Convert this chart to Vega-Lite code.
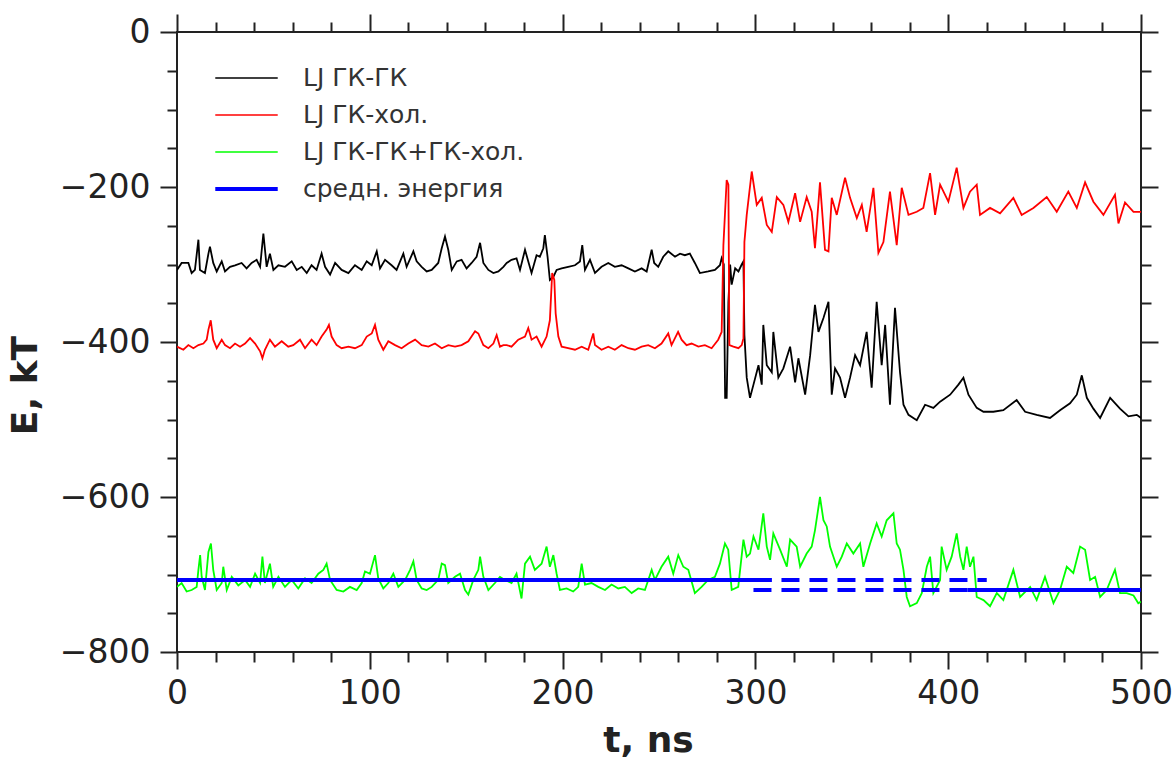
{
  "$schema": "https://vega.github.io/schema/vega-lite/v6.json",
  "autosize": {"type": "none"},
  "padding": {"left": 177, "top": 32, "right": 33, "bottom": 108},
  "width": 964,
  "height": 620,
  "background": "white",
  "config": {
    "view": {"stroke": "#222222", "strokeWidth": 2},
    "axis": {"domain": false, "grid": false, "tickColor": "#222222", "tickWidth": 2, "labelFont": "DejaVu Sans", "labelFontSize": 33, "labelColor": "#222222", "titleFont": "DejaVu Sans", "titleFontWeight": "bold", "titleFontSize": 36, "titleColor": "#222222"},
    "legend": {"orient": "none", "legendX": 38, "legendY": 38, "symbolType": "stroke", "symbolSize": 3900, "clipHeight": 16, "rowPadding": 12, "symbolOffset": 19, "labelOffset": 44, "labelLimit": 500, "labelFont": "DejaVu Sans", "labelFontSize": 25, "labelColor": "#333333", "padding": 0}
  },
  "datasets": {
    "curves": [
      {"series": "LJ ГК-ГК", "t": 0, "E": -307}, {"series": "LJ ГК-ГК", "t": 2.4, "E": -298}, {"series": "LJ ГК-ГК", "t": 5.9, "E": -298}, {"series": "LJ ГК-ГК", "t": 7.6, "E": -311}, {"series": "LJ ГК-ГК", "t": 9.3, "E": -307}, {"series": "LJ ГК-ГК", "t": 11.1, "E": -268}, {"series": "LJ ГК-ГК", "t": 11.9, "E": -307}, {"series": "LJ ГК-ГК", "t": 14.5, "E": -311}, {"series": "LJ ГК-ГК", "t": 16.3, "E": -286}, {"series": "LJ ГК-ГК", "t": 17.1, "E": -277}, {"series": "LJ ГК-ГК", "t": 18.8, "E": -298}, {"series": "LJ ГК-ГК", "t": 20.6, "E": -309}, {"series": "LJ ГК-ГК", "t": 23.2, "E": -296}, {"series": "LJ ГК-ГК", "t": 24.9, "E": -309}, {"series": "LJ ГК-ГК", "t": 27.5, "E": -303}, {"series": "LJ ГК-ГК", "t": 30.1, "E": -301}, {"series": "LJ ГК-ГК", "t": 33.5, "E": -298}, {"series": "LJ ГК-ГК", "t": 36.1, "E": -305}, {"series": "LJ ГК-ГК", "t": 38.7, "E": -298}, {"series": "LJ ГК-ГК", "t": 41.3, "E": -294}, {"series": "LJ ГК-ГК", "t": 43.1, "E": -303}, {"series": "LJ ГК-ГК", "t": 44.8, "E": -260}, {"series": "LJ ГК-ГК", "t": 46.5, "E": -303}, {"series": "LJ ГК-ГК", "t": 48.2, "E": -286}, {"series": "LJ ГК-ГК", "t": 50.0, "E": -307}, {"series": "LJ ГК-ГК", "t": 52.6, "E": -301}, {"series": "LJ ГК-ГК", "t": 56.0, "E": -303}, {"series": "LJ ГК-ГК", "t": 59.5, "E": -296}, {"series": "LJ ГК-ГК", "t": 62.1, "E": -307}, {"series": "LJ ГК-ГК", "t": 64.7, "E": -303}, {"series": "LJ ГК-ГК", "t": 67.3, "E": -311}, {"series": "LJ ГК-ГК", "t": 69.8, "E": -301}, {"series": "LJ ГК-ГК", "t": 72.4, "E": -307}, {"series": "LJ ГК-ГК", "t": 75.0, "E": -286}, {"series": "LJ ГК-ГК", "t": 76.8, "E": -303}, {"series": "LJ ГК-ГК", "t": 79.4, "E": -313}, {"series": "LJ ГК-ГК", "t": 82.0, "E": -298}, {"series": "LJ ГК-ГК", "t": 85.4, "E": -307}, {"series": "LJ ГК-ГК", "t": 88.9, "E": -311}, {"series": "LJ ГК-ГК", "t": 92.3, "E": -301}, {"series": "LJ ГК-ГК", "t": 95.8, "E": -307}, {"series": "LJ ГК-ГК", "t": 98.4, "E": -296}, {"series": "LJ ГК-ГК", "t": 101.0, "E": -301}, {"series": "LJ ГК-ГК", "t": 103.6, "E": -283}, {"series": "LJ ГК-ГК", "t": 105.3, "E": -305}, {"series": "LJ ГК-ГК", "t": 107.9, "E": -294}, {"series": "LJ ГК-ГК", "t": 111.3, "E": -301}, {"series": "LJ ГК-ГК", "t": 113.9, "E": -307}, {"series": "LJ ГК-ГК", "t": 117.4, "E": -286}, {"series": "LJ ГК-ГК", "t": 119.1, "E": -303}, {"series": "LJ ГК-ГК", "t": 122.6, "E": -283}, {"series": "LJ ГК-ГК", "t": 124.3, "E": -296}, {"series": "LJ ГК-ГК", "t": 126.9, "E": -303}, {"series": "LJ ГК-ГК", "t": 129.5, "E": -309}, {"series": "LJ ГК-ГК", "t": 132.1, "E": -307}, {"series": "LJ ГК-ГК", "t": 135.5, "E": -298}, {"series": "LJ ГК-ГК", "t": 137.3, "E": -279}, {"series": "LJ ГК-ГК", "t": 139.0, "E": -264}, {"series": "LJ ГК-ГК", "t": 140.7, "E": -281}, {"series": "LJ ГК-ГК", "t": 142.5, "E": -307}, {"series": "LJ ГК-ГК", "t": 145.1, "E": -296}, {"series": "LJ ГК-ГК", "t": 147.6, "E": -294}, {"series": "LJ ГК-ГК", "t": 150.2, "E": -305}, {"series": "LJ ГК-ГК", "t": 152.8, "E": -298}, {"series": "LJ ГК-ГК", "t": 155.4, "E": -290}, {"series": "LJ ГК-ГК", "t": 157.2, "E": -272}, {"series": "LJ ГК-ГК", "t": 158.9, "E": -298}, {"series": "LJ ГК-ГК", "t": 161.5, "E": -307}, {"series": "LJ ГК-ГК", "t": 164.1, "E": -311}, {"series": "LJ ГК-ГК", "t": 166.7, "E": -309}, {"series": "LJ ГК-ГК", "t": 169.3, "E": -303},
      {"series": "LJ ГК-ГК", "t": 171.0, "E": -298}, {"series": "LJ ГК-ГК", "t": 173.5, "E": -294}, {"series": "LJ ГК-ГК", "t": 176.1, "E": -292}, {"series": "LJ ГК-ГК", "t": 177.9, "E": -307}, {"series": "LJ ГК-ГК", "t": 180.5, "E": -281}, {"series": "LJ ГК-ГК", "t": 182.2, "E": -296}, {"series": "LJ ГК-ГК", "t": 183.9, "E": -311}, {"series": "LJ ГК-ГК", "t": 186.5, "E": -288}, {"series": "LJ ГК-ГК", "t": 188.2, "E": -290}, {"series": "LJ ГК-ГК", "t": 190.0, "E": -279}, {"series": "LJ ГК-ГК", "t": 190.8, "E": -262}, {"series": "LJ ГК-ГК", "t": 192.2, "E": -290}, {"series": "LJ ГК-ГК", "t": 193.4, "E": -320}, {"series": "LJ ГК-ГК", "t": 195.2, "E": -316}, {"series": "LJ ГК-ГК", "t": 196.9, "E": -307}, {"series": "LJ ГК-ГК", "t": 199.5, "E": -305}, {"series": "LJ ГК-ГК", "t": 202.9, "E": -303}, {"series": "LJ ГК-ГК", "t": 206.4, "E": -301}, {"series": "LJ ГК-ГК", "t": 209.0, "E": -296}, {"series": "LJ ГК-ГК", "t": 210.2, "E": -275}, {"series": "LJ ГК-ГК", "t": 211.6, "E": -307}, {"series": "LJ ГК-ГК", "t": 214.2, "E": -294}, {"series": "LJ ГК-ГК", "t": 216.8, "E": -311}, {"series": "LJ ГК-ГК", "t": 220.2, "E": -303}, {"series": "LJ ГК-ГК", "t": 223.7, "E": -298}, {"series": "LJ ГК-ГК", "t": 227.1, "E": -303}, {"series": "LJ ГК-ГК", "t": 230.6, "E": -301}, {"series": "LJ ГК-ГК", "t": 234.1, "E": -305}, {"series": "LJ ГК-ГК", "t": 237.5, "E": -309}, {"series": "LJ ГК-ГК", "t": 241.0, "E": -305}, {"series": "LJ ГК-ГК", "t": 243.6, "E": -309}, {"series": "LJ ГК-ГК", "t": 246.2, "E": -281}, {"series": "LJ ГК-ГК", "t": 247.5, "E": -298}, {"series": "LJ ГК-ГК", "t": 249.6, "E": -303}, {"series": "LJ ГК-ГК", "t": 252.2, "E": -290}, {"series": "LJ ГК-ГК", "t": 254.8, "E": -283}, {"series": "LJ ГК-ГК", "t": 258.3, "E": -290}, {"series": "LJ ГК-ГК", "t": 260.9, "E": -286}, {"series": "LJ ГК-ГК", "t": 263.4, "E": -288}, {"series": "LJ ГК-ГК", "t": 266.0, "E": -286}, {"series": "LJ ГК-ГК", "t": 268.6, "E": -298}, {"series": "LJ ГК-ГК", "t": 271.2, "E": -311}, {"series": "LJ ГК-ГК", "t": 275.5, "E": -309}, {"series": "LJ ГК-ГК", "t": 279.0, "E": -307}, {"series": "LJ ГК-ГК", "t": 281.6, "E": -301}, {"series": "LJ ГК-ГК", "t": 282.5, "E": -292}, {"series": "LJ ГК-ГК", "t": 283.6, "E": -300}, {"series": "LJ ГК-ГК", "t": 284.3, "E": -472}, {"series": "LJ ГК-ГК", "t": 285.1, "E": -472}, {"series": "LJ ГК-ГК", "t": 286.0, "E": -348}, {"series": "LJ ГК-ГК", "t": 286.9, "E": -300}, {"series": "LJ ГК-ГК", "t": 287.7, "E": -326}, {"series": "LJ ГК-ГК", "t": 289.5, "E": -305}, {"series": "LJ ГК-ГК", "t": 291.2, "E": -309}, {"series": "LJ ГК-ГК", "t": 292.9, "E": -300}, {"series": "LJ ГК-ГК", "t": 293.8, "E": -296}, {"series": "LJ ГК-ГК", "t": 294.3, "E": -391}, {"series": "LJ ГК-ГК", "t": 295.5, "E": -446}, {"series": "LJ ГК-ГК", "t": 297.2, "E": -472},
      {"series": "LJ ГК-ГК", "t": 299.0, "E": -455}, {"series": "LJ ГК-ГК", "t": 301.6, "E": -430}, {"series": "LJ ГК-ГК", "t": 303.3, "E": -455}, {"series": "LJ ГК-ГК", "t": 304.1, "E": -378}, {"series": "LJ ГК-ГК", "t": 305.9, "E": -430}, {"series": "LJ ГК-ГК", "t": 308.5, "E": -439}, {"series": "LJ ГК-ГК", "t": 309.3, "E": -387}, {"series": "LJ ГК-ГК", "t": 311.9, "E": -446}, {"series": "LJ ГК-ГК", "t": 314.5, "E": -434}, {"series": "LJ ГК-ГК", "t": 318.0, "E": -406}, {"series": "LJ ГК-ГК", "t": 320.6, "E": -452}, {"series": "LJ ГК-ГК", "t": 322.3, "E": -421}, {"series": "LJ ГК-ГК", "t": 325.8, "E": -468}, {"series": "LJ ГК-ГК", "t": 328.4, "E": -417}, {"series": "LJ ГК-ГК", "t": 330.9, "E": -352}, {"series": "LJ ГК-ГК", "t": 332.7, "E": -387}, {"series": "LJ ГК-ГК", "t": 335.3, "E": -369}, {"series": "LJ ГК-ГК", "t": 337.9, "E": -348}, {"series": "LJ ГК-ГК", "t": 339.6, "E": -468}, {"series": "LJ ГК-ГК", "t": 341.3, "E": -434}, {"series": "LJ ГК-ГК", "t": 343.9, "E": -446}, {"series": "LJ ГК-ГК", "t": 346.5, "E": -472}, {"series": "LJ ГК-ГК", "t": 349.1, "E": -446}, {"series": "LJ ГК-ГК", "t": 351.7, "E": -417}, {"series": "LJ ГК-ГК", "t": 354.3, "E": -430}, {"series": "LJ ГК-ГК", "t": 357.7, "E": -387}, {"series": "LJ ГК-ГК", "t": 360.3, "E": -459}, {"series": "LJ ГК-ГК", "t": 362.9, "E": -348}, {"series": "LJ ГК-ГК", "t": 365.5, "E": -430}, {"series": "LJ ГК-ГК", "t": 367.3, "E": -378}, {"series": "LJ ГК-ГК", "t": 369.8, "E": -481}, {"series": "LJ ГК-ГК", "t": 372.4, "E": -356}, {"series": "LJ ГК-ГК", "t": 375.0, "E": -439}, {"series": "LJ ГК-ГК", "t": 376.8, "E": -481}, {"series": "LJ ГК-ГК", "t": 379.4, "E": -494}, {"series": "LJ ГК-ГК", "t": 383.7, "E": -501}, {"series": "LJ ГК-ГК", "t": 388.0, "E": -481}, {"series": "LJ ГК-ГК", "t": 392.3, "E": -485}, {"series": "LJ ГК-ГК", "t": 395.8, "E": -477}, {"series": "LJ ГК-ГК", "t": 401.0, "E": -468}, {"series": "LJ ГК-ГК", "t": 405.3, "E": -455}, {"series": "LJ ГК-ГК", "t": 407.9, "E": -446}, {"series": "LJ ГК-ГК", "t": 410.5, "E": -468}, {"series": "LJ ГК-ГК", "t": 414.8, "E": -485}, {"series": "LJ ГК-ГК", "t": 418.3, "E": -490}, {"series": "LJ ГК-ГК", "t": 423.4, "E": -490}, {"series": "LJ ГК-ГК", "t": 428.6, "E": -488}, {"series": "LJ ГК-ГК", "t": 435.5, "E": -475}, {"series": "LJ ГК-ГК", "t": 439.9, "E": -490}, {"series": "LJ ГК-ГК", "t": 445.9, "E": -494}, {"series": "LJ ГК-ГК", "t": 452.8, "E": -498}, {"series": "LJ ГК-ГК", "t": 458.0, "E": -488}, {"series": "LJ ГК-ГК", "t": 463.2, "E": -479}, {"series": "LJ ГК-ГК", "t": 466.7, "E": -468}, {"series": "LJ ГК-ГК", "t": 469.3, "E": -443}, {"series": "LJ ГК-ГК", "t": 471.9, "E": -472}, {"series": "LJ ГК-ГК", "t": 475.3, "E": -486}, {"series": "LJ ГК-ГК", "t": 478.8, "E": -498}, {"series": "LJ ГК-ГК", "t": 484.0, "E": -472}, {"series": "LJ ГК-ГК", "t": 489.1, "E": -486}, {"series": "LJ ГК-ГК", "t": 493.5, "E": -496}, {"series": "LJ ГК-ГК", "t": 497.8, "E": -494}, {"series": "LJ ГК-ГК", "t": 500, "E": -498},

      {"series": "LJ ГК-хол.", "t": 0, "E": -406}, {"series": "LJ ГК-хол.", "t": 3.3, "E": -410}, {"series": "LJ ГК-хол.", "t": 5.9, "E": -404}, {"series": "LJ ГК-хол.", "t": 8.5, "E": -408}, {"series": "LJ ГК-хол.", "t": 11.1, "E": -404}, {"series": "LJ ГК-хол.", "t": 13.7, "E": -402}, {"series": "LJ ГК-хол.", "t": 15.4, "E": -397}, {"series": "LJ ГК-хол.", "t": 16.3, "E": -384}, {"series": "LJ ГК-хол.", "t": 17.5, "E": -372}, {"series": "LJ ГК-хол.", "t": 18.8, "E": -397}, {"series": "LJ ГК-хол.", "t": 20.6, "E": -408}, {"series": "LJ ГК-хол.", "t": 23.2, "E": -397}, {"series": "LJ ГК-хол.", "t": 24.9, "E": -404}, {"series": "LJ ГК-хол.", "t": 27.5, "E": -408}, {"series": "LJ ГК-хол.", "t": 30.1, "E": -402}, {"series": "LJ ГК-хол.", "t": 32.7, "E": -406}, {"series": "LJ ГК-хол.", "t": 35.3, "E": -402}, {"series": "LJ ГК-хол.", "t": 37.9, "E": -395}, {"series": "LJ ГК-хол.", "t": 40.5, "E": -402}, {"series": "LJ ГК-хол.", "t": 43.1, "E": -412}, {"series": "LJ ГК-хол.", "t": 44.3, "E": -421}, {"series": "LJ ГК-хол.", "t": 45.6, "E": -410}, {"series": "LJ ГК-хол.", "t": 48.2, "E": -397}, {"series": "LJ ГК-хол.", "t": 50.8, "E": -406}, {"series": "LJ ГК-хол.", "t": 54.3, "E": -399}, {"series": "LJ ГК-хол.", "t": 57.7, "E": -406}, {"series": "LJ ГК-хол.", "t": 60.3, "E": -404}, {"series": "LJ ГК-хол.", "t": 63.8, "E": -397}, {"series": "LJ ГК-хол.", "t": 66.4, "E": -408}, {"series": "LJ ГК-хол.", "t": 69.8, "E": -397}, {"series": "LJ ГК-хол.", "t": 72.4, "E": -404}, {"series": "LJ ГК-хол.", "t": 75.0, "E": -393}, {"series": "LJ ГК-хол.", "t": 77.6, "E": -384}, {"series": "LJ ГК-хол.", "t": 78.8, "E": -378}, {"series": "LJ ГК-хол.", "t": 80.2, "E": -393}, {"series": "LJ ГК-хол.", "t": 82.8, "E": -404}, {"series": "LJ ГК-хол.", "t": 85.4, "E": -408}, {"series": "LJ ГК-хол.", "t": 88.9, "E": -406}, {"series": "LJ ГК-хол.", "t": 92.3, "E": -408}, {"series": "LJ ГК-хол.", "t": 95.8, "E": -404}, {"series": "LJ ГК-хол.", "t": 98.4, "E": -393}, {"series": "LJ ГК-хол.", "t": 101.0, "E": -389}, {"series": "LJ ГК-хол.", "t": 102.7, "E": -378}, {"series": "LJ ГК-хол.", "t": 104.4, "E": -397}, {"series": "LJ ГК-хол.", "t": 107.0, "E": -410}, {"series": "LJ ГК-хол.", "t": 109.6, "E": -399}, {"series": "LJ ГК-хол.", "t": 113.1, "E": -404}, {"series": "LJ ГК-хол.", "t": 116.5, "E": -408}, {"series": "LJ ГК-хол.", "t": 120.0, "E": -402}, {"series": "LJ ГК-хол.", "t": 123.5, "E": -397}, {"series": "LJ ГК-хол.", "t": 126.9, "E": -404}, {"series": "LJ ГК-хол.", "t": 130.4, "E": -406}, {"series": "LJ ГК-хол.", "t": 133.8, "E": -402}, {"series": "LJ ГК-хол.", "t": 137.3, "E": -408}, {"series": "LJ ГК-хол.", "t": 140.7, "E": -404}, {"series": "LJ ГК-хол.", "t": 144.2, "E": -406}, {"series": "LJ ГК-хол.", "t": 147.6, "E": -404}, {"series": "LJ ГК-хол.", "t": 151.1, "E": -399}, {"series": "LJ ГК-хол.", "t": 154.6, "E": -386}, {"series": "LJ ГК-хол.", "t": 156.3, "E": -389}, {"series": "LJ ГК-хол.", "t": 158.9, "E": -404}, {"series": "LJ ГК-хол.", "t": 161.5, "E": -408}, {"series": "LJ ГК-хол.", "t": 164.1, "E": -402}, {"series": "LJ ГК-хол.", "t": 165.8, "E": -391}, {"series": "LJ ГК-хол.", "t": 167.5, "E": -406}, {"series": "LJ ГК-хол.", "t": 169.3, "E": -404},
      {"series": "LJ ГК-хол.", "t": 171.0, "E": -404}, {"series": "LJ ГК-хол.", "t": 173.5, "E": -406}, {"series": "LJ ГК-хол.", "t": 177.0, "E": -397}, {"series": "LJ ГК-хол.", "t": 180.5, "E": -393}, {"series": "LJ ГК-хол.", "t": 182.2, "E": -382}, {"series": "LJ ГК-хол.", "t": 183.9, "E": -397}, {"series": "LJ ГК-хол.", "t": 186.5, "E": -393}, {"series": "LJ ГК-хол.", "t": 189.1, "E": -406}, {"series": "LJ ГК-хол.", "t": 191.7, "E": -393}, {"series": "LJ ГК-хол.", "t": 193.4, "E": -372}, {"series": "LJ ГК-хол.", "t": 194.6, "E": -311}, {"series": "LJ ГК-хол.", "t": 195.7, "E": -320}, {"series": "LJ ГК-хол.", "t": 196.4, "E": -363}, {"series": "LJ ГК-хол.", "t": 197.8, "E": -393}, {"series": "LJ ГК-хол.", "t": 199.5, "E": -406}, {"series": "LJ ГК-хол.", "t": 202.9, "E": -408}, {"series": "LJ ГК-хол.", "t": 206.4, "E": -410}, {"series": "LJ ГК-хол.", "t": 209.9, "E": -406}, {"series": "LJ ГК-хол.", "t": 213.3, "E": -410}, {"series": "LJ ГК-хол.", "t": 215.9, "E": -389}, {"series": "LJ ГК-хол.", "t": 216.8, "E": -404}, {"series": "LJ ГК-хол.", "t": 220.2, "E": -410}, {"series": "LJ ГК-хол.", "t": 223.7, "E": -406}, {"series": "LJ ГК-хол.", "t": 227.1, "E": -410}, {"series": "LJ ГК-хол.", "t": 230.6, "E": -404}, {"series": "LJ ГК-хол.", "t": 234.1, "E": -408}, {"series": "LJ ГК-хол.", "t": 237.5, "E": -410}, {"series": "LJ ГК-хол.", "t": 241.0, "E": -406}, {"series": "LJ ГК-хол.", "t": 244.4, "E": -404}, {"series": "LJ ГК-хол.", "t": 247.9, "E": -408}, {"series": "LJ ГК-хол.", "t": 251.3, "E": -402}, {"series": "LJ ГК-хол.", "t": 254.8, "E": -389}, {"series": "LJ ГК-хол.", "t": 256.5, "E": -404}, {"series": "LJ ГК-хол.", "t": 259.9, "E": -387}, {"series": "LJ ГК-хол.", "t": 261.7, "E": -397}, {"series": "LJ ГК-хол.", "t": 264.3, "E": -404}, {"series": "LJ ГК-хол.", "t": 266.9, "E": -402}, {"series": "LJ ГК-хол.", "t": 270.4, "E": -406}, {"series": "LJ ГК-хол.", "t": 273.8, "E": -404}, {"series": "LJ ГК-хол.", "t": 277.3, "E": -408}, {"series": "LJ ГК-хол.", "t": 280.7, "E": -397}, {"series": "LJ ГК-хол.", "t": 282.5, "E": -387}, {"series": "LJ ГК-хол.", "t": 283.4, "E": -275}, {"series": "LJ ГК-хол.", "t": 285.1, "E": -191}, {"series": "LJ ГК-хол.", "t": 286.0, "E": -197}, {"series": "LJ ГК-хол.", "t": 286.5, "E": -404}, {"series": "LJ ГК-хол.", "t": 288.6, "E": -406}, {"series": "LJ ГК-хол.", "t": 291.2, "E": -408}, {"series": "LJ ГК-хол.", "t": 292.9, "E": -404}, {"series": "LJ ГК-хол.", "t": 293.8, "E": -395}, {"series": "LJ ГК-хол.", "t": 294.3, "E": -271}, {"series": "LJ ГК-хол.", "t": 295.5, "E": -236}, {"series": "LJ ГК-хол.", "t": 298.1, "E": -180},
      {"series": "LJ ГК-хол.", "t": 300.7, "E": -223}, {"series": "LJ ГК-хол.", "t": 303.3, "E": -214}, {"series": "LJ ГК-хол.", "t": 305.9, "E": -249}, {"series": "LJ ГК-хол.", "t": 308.5, "E": -258}, {"series": "LJ ГК-хол.", "t": 311.1, "E": -213}, {"series": "LJ ГК-хол.", "t": 314.5, "E": -223}, {"series": "LJ ГК-хол.", "t": 317.1, "E": -245}, {"series": "LJ ГК-хол.", "t": 320.6, "E": -208}, {"series": "LJ ГК-хол.", "t": 323.2, "E": -245}, {"series": "LJ ГК-хол.", "t": 326.6, "E": -213}, {"series": "LJ ГК-хол.", "t": 329.2, "E": -232}, {"series": "LJ ГК-хол.", "t": 330.9, "E": -279}, {"series": "LJ ГК-хол.", "t": 333.5, "E": -194}, {"series": "LJ ГК-хол.", "t": 336.1, "E": -281}, {"series": "LJ ГК-хол.", "t": 337.9, "E": -283}, {"series": "LJ ГК-хол.", "t": 339.6, "E": -214}, {"series": "LJ ГК-хол.", "t": 342.2, "E": -236}, {"series": "LJ ГК-хол.", "t": 346.5, "E": -188}, {"series": "LJ ГК-хол.", "t": 349.1, "E": -214}, {"series": "LJ ГК-хол.", "t": 352.6, "E": -240}, {"series": "LJ ГК-хол.", "t": 355.2, "E": -223}, {"series": "LJ ГК-хол.", "t": 357.7, "E": -258}, {"series": "LJ ГК-хол.", "t": 361.2, "E": -201}, {"series": "LJ ГК-хол.", "t": 363.8, "E": -285}, {"series": "LJ ГК-хол.", "t": 366.4, "E": -271}, {"series": "LJ ГК-хол.", "t": 369.8, "E": -206}, {"series": "LJ ГК-хол.", "t": 373.3, "E": -275}, {"series": "LJ ГК-хол.", "t": 375.9, "E": -201}, {"series": "LJ ГК-хол.", "t": 379.4, "E": -236}, {"series": "LJ ГК-хол.", "t": 383.7, "E": -232}, {"series": "LJ ГК-хол.", "t": 387.1, "E": -227}, {"series": "LJ ГК-хол.", "t": 390.6, "E": -182}, {"series": "LJ ГК-хол.", "t": 393.2, "E": -236}, {"series": "LJ ГК-хол.", "t": 395.8, "E": -197}, {"series": "LJ ГК-хол.", "t": 400.1, "E": -219}, {"series": "LJ ГК-хол.", "t": 404.4, "E": -175}, {"series": "LJ ГК-хол.", "t": 407.9, "E": -227}, {"series": "LJ ГК-хол.", "t": 411.3, "E": -206}, {"series": "LJ ГК-хол.", "t": 414.8, "E": -197}, {"series": "LJ ГК-хол.", "t": 416.5, "E": -236}, {"series": "LJ ГК-хол.", "t": 421.7, "E": -227}, {"series": "LJ ГК-хол.", "t": 426.9, "E": -234}, {"series": "LJ ГК-хол.", "t": 433.8, "E": -214}, {"series": "LJ ГК-хол.", "t": 438.1, "E": -236}, {"series": "LJ ГК-хол.", "t": 444.2, "E": -227}, {"series": "LJ ГК-хол.", "t": 451.1, "E": -213}, {"series": "LJ ГК-хол.", "t": 456.3, "E": -232}, {"series": "LJ ГК-хол.", "t": 462.3, "E": -206}, {"series": "LJ ГК-хол.", "t": 466.7, "E": -227}, {"series": "LJ ГК-хол.", "t": 471.0, "E": -194}, {"series": "LJ ГК-хол.", "t": 475.3, "E": -219}, {"series": "LJ ГК-хол.", "t": 480.5, "E": -236}, {"series": "LJ ГК-хол.", "t": 486.5, "E": -210}, {"series": "LJ ГК-хол.", "t": 488.3, "E": -247}, {"series": "LJ ГК-хол.", "t": 491.7, "E": -220}, {"series": "LJ ГК-хол.", "t": 496.1, "E": -232}, {"series": "LJ ГК-хол.", "t": 500, "E": -232},

      {"series": "LJ ГК-ГК+ГК-хол.", "t": 0, "E": -716}, {"series": "LJ ГК-ГК+ГК-хол.", "t": 2.4, "E": -711}, {"series": "LJ ГК-ГК+ГК-хол.", "t": 5.0, "E": -722}, {"series": "LJ ГК-ГК+ГК-хол.", "t": 7.6, "E": -720}, {"series": "LJ ГК-ГК+ГК-хол.", "t": 10.2, "E": -716}, {"series": "LJ ГК-ГК+ГК-хол.", "t": 11.1, "E": -694}, {"series": "LJ ГК-ГК+ГК-хол.", "t": 12.0, "E": -675}, {"series": "LJ ГК-ГК+ГК-хол.", "t": 12.8, "E": -703}, {"series": "LJ ГК-ГК+ГК-хол.", "t": 14.5, "E": -720}, {"series": "LJ ГК-ГК+ГК-хол.", "t": 16.3, "E": -671}, {"series": "LJ ГК-ГК+ГК-хол.", "t": 17.6, "E": -660}, {"series": "LJ ГК-ГК+ГК-хол.", "t": 18.8, "E": -694}, {"series": "LJ ГК-ГК+ГК-хол.", "t": 20.6, "E": -720}, {"series": "LJ ГК-ГК+ГК-хол.", "t": 23.2, "E": -711}, {"series": "LJ ГК-ГК+ГК-хол.", "t": 24.0, "E": -690}, {"series": "LJ ГК-ГК+ГК-хол.", "t": 25.8, "E": -720}, {"series": "LJ ГК-ГК+ГК-хол.", "t": 28.4, "E": -703}, {"series": "LJ ГК-ГК+ГК-хол.", "t": 31.8, "E": -714}, {"series": "LJ ГК-ГК+ГК-хол.", "t": 35.3, "E": -707}, {"series": "LJ ГК-ГК+ГК-хол.", "t": 37.9, "E": -716}, {"series": "LJ ГК-ГК+ГК-хол.", "t": 40.5, "E": -699}, {"series": "LJ ГК-ГК+ГК-хол.", "t": 43.1, "E": -711}, {"series": "LJ ГК-ГК+ГК-хол.", "t": 44.3, "E": -677}, {"series": "LJ ГК-ГК+ГК-хол.", "t": 45.6, "E": -711}, {"series": "LJ ГК-ГК+ГК-хол.", "t": 48.2, "E": -686}, {"series": "LJ ГК-ГК+ГК-хол.", "t": 49.9, "E": -716}, {"series": "LJ ГК-ГК+ГК-хол.", "t": 52.6, "E": -703}, {"series": "LJ ГК-ГК+ГК-хол.", "t": 56.0, "E": -716}, {"series": "LJ ГК-ГК+ГК-хол.", "t": 59.5, "E": -707}, {"series": "LJ ГК-ГК+ГК-хол.", "t": 62.9, "E": -718}, {"series": "LJ ГК-ГК+ГК-хол.", "t": 66.4, "E": -705}, {"series": "LJ ГК-ГК+ГК-хол.", "t": 69.8, "E": -711}, {"series": "LJ ГК-ГК+ГК-хол.", "t": 73.3, "E": -699}, {"series": "LJ ГК-ГК+ГК-хол.", "t": 75.9, "E": -694}, {"series": "LJ ГК-ГК+ГК-хол.", "t": 77.6, "E": -686}, {"series": "LJ ГК-ГК+ГК-хол.", "t": 79.4, "E": -707}, {"series": "LJ ГК-ГК+ГК-хол.", "t": 82.8, "E": -720}, {"series": "LJ ГК-ГК+ГК-хол.", "t": 86.3, "E": -722}, {"series": "LJ ГК-ГК+ГК-хол.", "t": 89.7, "E": -716}, {"series": "LJ ГК-ГК+ГК-хол.", "t": 93.2, "E": -720}, {"series": "LJ ГК-ГК+ГК-хол.", "t": 95.8, "E": -711}, {"series": "LJ ГК-ГК+ГК-хол.", "t": 97.5, "E": -696}, {"series": "LJ ГК-ГК+ГК-хол.", "t": 100.1, "E": -699}, {"series": "LJ ГК-ГК+ГК-хол.", "t": 102.7, "E": -675}, {"series": "LJ ГК-ГК+ГК-хол.", "t": 104.4, "E": -705}, {"series": "LJ ГК-ГК+ГК-хол.", "t": 107.0, "E": -718}, {"series": "LJ ГК-ГК+ГК-хол.", "t": 109.6, "E": -711}, {"series": "LJ ГК-ГК+ГК-хол.", "t": 112.2, "E": -699}, {"series": "LJ ГК-ГК+ГК-хол.", "t": 114.8, "E": -716}, {"series": "LJ ГК-ГК+ГК-хол.", "t": 118.3, "E": -707}, {"series": "LJ ГК-ГК+ГК-хол.", "t": 120.9, "E": -694}, {"series": "LJ ГК-ГК+ГК-хол.", "t": 122.6, "E": -683}, {"series": "LJ ГК-ГК+ГК-хол.", "t": 124.3, "E": -707}, {"series": "LJ ГК-ГК+ГК-хол.", "t": 126.9, "E": -718}, {"series": "LJ ГК-ГК+ГК-хол.", "t": 129.5, "E": -720}, {"series": "LJ ГК-ГК+ГК-хол.", "t": 132.1, "E": -716}, {"series": "LJ ГК-ГК+ГК-хол.", "t": 135.5, "E": -707}, {"series": "LJ ГК-ГК+ГК-хол.", "t": 137.3, "E": -686}, {"series": "LJ ГК-ГК+ГК-хол.", "t": 139.0, "E": -688}, {"series": "LJ ГК-ГК+ГК-хол.", "t": 140.7, "E": -711}, {"series": "LJ ГК-ГК+ГК-хол.", "t": 144.2, "E": -703}, {"series": "LJ ГК-ГК+ГК-хол.", "t": 146.8, "E": -699}, {"series": "LJ ГК-ГК+ГК-хол.", "t": 149.4, "E": -720}, {"series": "LJ ГК-ГК+ГК-хол.", "t": 151.1, "E": -726}, {"series": "LJ ГК-ГК+ГК-хол.", "t": 153.7, "E": -707}, {"series": "LJ ГК-ГК+ГК-хол.", "t": 156.3, "E": -694}, {"series": "LJ ГК-ГК+ГК-хол.", "t": 157.2, "E": -677}, {"series": "LJ ГК-ГК+ГК-хол.", "t": 158.9, "E": -703}, {"series": "LJ ГК-ГК+ГК-хол.", "t": 161.5, "E": -720}, {"series": "LJ ГК-ГК+ГК-хол.", "t": 164.9, "E": -711}, {"series": "LJ ГК-ГК+ГК-хол.", "t": 167.5, "E": -703},
      {"series": "LJ ГК-ГК+ГК-хол.", "t": 170.1, "E": -707}, {"series": "LJ ГК-ГК+ГК-хол.", "t": 173.5, "E": -711}, {"series": "LJ ГК-ГК+ГК-хол.", "t": 176.1, "E": -699}, {"series": "LJ ГК-ГК+ГК-хол.", "t": 178.7, "E": -731}, {"series": "LJ ГК-ГК+ГК-хол.", "t": 180.5, "E": -686}, {"series": "LJ ГК-ГК+ГК-хол.", "t": 183.1, "E": -677}, {"series": "LJ ГК-ГК+ГК-хол.", "t": 185.6, "E": -694}, {"series": "LJ ГК-ГК+ГК-хол.", "t": 189.1, "E": -686}, {"series": "LJ ГК-ГК+ГК-хол.", "t": 191.7, "E": -664}, {"series": "LJ ГК-ГК+ГК-хол.", "t": 193.4, "E": -690}, {"series": "LJ ГК-ГК+ГК-хол.", "t": 195.2, "E": -675}, {"series": "LJ ГК-ГК+ГК-хол.", "t": 196.9, "E": -699}, {"series": "LJ ГК-ГК+ГК-хол.", "t": 198.6, "E": -720}, {"series": "LJ ГК-ГК+ГК-хол.", "t": 202.1, "E": -718}, {"series": "LJ ГК-ГК+ГК-хол.", "t": 205.5, "E": -722}, {"series": "LJ ГК-ГК+ГК-хол.", "t": 208.1, "E": -716}, {"series": "LJ ГК-ГК+ГК-хол.", "t": 209.9, "E": -686}, {"series": "LJ ГК-ГК+ГК-хол.", "t": 211.6, "E": -713}, {"series": "LJ ГК-ГК+ГК-хол.", "t": 215.0, "E": -711}, {"series": "LJ ГК-ГК+ГК-хол.", "t": 218.5, "E": -716}, {"series": "LJ ГК-ГК+ГК-хол.", "t": 222.0, "E": -720}, {"series": "LJ ГК-ГК+ГК-хол.", "t": 225.4, "E": -713}, {"series": "LJ ГК-ГК+ГК-хол.", "t": 228.9, "E": -718}, {"series": "LJ ГК-ГК+ГК-хол.", "t": 232.3, "E": -716}, {"series": "LJ ГК-ГК+ГК-хол.", "t": 235.8, "E": -724}, {"series": "LJ ГК-ГК+ГК-хол.", "t": 239.2, "E": -718}, {"series": "LJ ГК-ГК+ГК-хол.", "t": 242.7, "E": -720}, {"series": "LJ ГК-ГК+ГК-хол.", "t": 246.2, "E": -694}, {"series": "LJ ГК-ГК+ГК-хол.", "t": 247.9, "E": -707}, {"series": "LJ ГК-ГК+ГК-хол.", "t": 251.3, "E": -690}, {"series": "LJ ГК-ГК+ГК-хол.", "t": 254.8, "E": -677}, {"series": "LJ ГК-ГК+ГК-хол.", "t": 257.4, "E": -699}, {"series": "LJ ГК-ГК+ГК-хол.", "t": 260.0, "E": -675}, {"series": "LJ ГК-ГК+ГК-хол.", "t": 262.6, "E": -690}, {"series": "LJ ГК-ГК+ГК-хол.", "t": 265.2, "E": -694}, {"series": "LJ ГК-ГК+ГК-хол.", "t": 268.6, "E": -724}, {"series": "LJ ГК-ГК+ГК-хол.", "t": 272.1, "E": -716}, {"series": "LJ ГК-ГК+ГК-хол.", "t": 275.5, "E": -707}, {"series": "LJ ГК-ГК+ГК-хол.", "t": 279.0, "E": -703}, {"series": "LJ ГК-ГК+ГК-хол.", "t": 281.6, "E": -686}, {"series": "LJ ГК-ГК+ГК-хол.", "t": 284.2, "E": -660}, {"series": "LJ ГК-ГК+ГК-хол.", "t": 285.9, "E": -668}, {"series": "LJ ГК-ГК+ГК-хол.", "t": 287.7, "E": -720}, {"series": "LJ ГК-ГК+ГК-хол.", "t": 291.1, "E": -716}, {"series": "LJ ГК-ГК+ГК-хол.", "t": 293.8, "E": -655}, {"series": "LJ ГК-ГК+ГК-хол.", "t": 295.5, "E": -677}, {"series": "LJ ГК-ГК+ГК-хол.", "t": 297.2, "E": -673}, {"series": "LJ ГК-ГК+ГК-хол.", "t": 299.0, "E": -651}, {"series": "LJ ГК-ГК+ГК-хол.", "t": 301.6, "E": -668}, {"series": "LJ ГК-ГК+ГК-хол.", "t": 304.1, "E": -621}, {"series": "LJ ГК-ГК+ГК-хол.", "t": 305.9, "E": -664}, {"series": "LJ ГК-ГК+ГК-хол.", "t": 307.6, "E": -681}, {"series": "LJ ГК-ГК+ГК-хол.", "t": 309.3, "E": -647}, {"series": "LJ ГК-ГК+ГК-хол.", "t": 312.8, "E": -668}, {"series": "LJ ГК-ГК+ГК-хол.", "t": 316.3, "E": -690}, {"series": "LJ ГК-ГК+ГК-хол.", "t": 318.0, "E": -655}, {"series": "LJ ГК-ГК+ГК-хол.", "t": 321.4, "E": -664}, {"series": "LJ ГК-ГК+ГК-хол.", "t": 323.2, "E": -690}, {"series": "LJ ГК-ГК+ГК-хол.", "t": 326.6, "E": -673}, {"series": "LJ ГК-ГК+ГК-хол.", "t": 329.2, "E": -664}, {"series": "LJ ГК-ГК+ГК-хол.", "t": 330.9, "E": -643}, {"series": "LJ ГК-ГК+ГК-хол.", "t": 333.5, "E": -600}, {"series": "LJ ГК-ГК+ГК-хол.", "t": 335.3, "E": -630}, {"series": "LJ ГК-ГК+ГК-хол.", "t": 337.0, "E": -638}, {"series": "LJ ГК-ГК+ГК-хол.", "t": 338.7, "E": -664}, {"series": "LJ ГК-ГК+ГК-хол.", "t": 342.2, "E": -690}, {"series": "LJ ГК-ГК+ГК-хол.", "t": 344.8, "E": -677}, {"series": "LJ ГК-ГК+ГК-хол.", "t": 347.4, "E": -660}, {"series": "LJ ГК-ГК+ГК-хол.", "t": 350.8, "E": -673}, {"series": "LJ ГК-ГК+ГК-хол.", "t": 354.3, "E": -660}, {"series": "LJ ГК-ГК+ГК-хол.", "t": 356.0, "E": -690}, {"series": "LJ ГК-ГК+ГК-хол.", "t": 359.5, "E": -660}, {"series": "LJ ГК-ГК+ГК-хол.", "t": 362.9, "E": -634}, {"series": "LJ ГК-ГК+ГК-хол.", "t": 365.5, "E": -651}, {"series": "LJ ГК-ГК+ГК-хол.", "t": 368.1, "E": -630}, {"series": "LJ ГК-ГК+ГК-хол.", "t": 371.6, "E": -621}, {"series": "LJ ГК-ГК+ГК-хол.", "t": 373.3, "E": -660}, {"series": "LJ ГК-ГК+ГК-хол.", "t": 375.0, "E": -668}, {"series": "LJ ГК-ГК+ГК-хол.", "t": 376.8, "E": -694}, {"series": "LJ ГК-ГК+ГК-хол.", "t": 378.5, "E": -729}, {"series": "LJ ГК-ГК+ГК-хол.", "t": 380.2, "E": -741}, {"series": "LJ ГК-ГК+ГК-хол.", "t": 383.7, "E": -737}, {"series": "LJ ГК-ГК+ГК-хол.", "t": 386.3, "E": -724}, {"series": "LJ ГК-ГК+ГК-хол.", "t": 388.9, "E": -690}, {"series": "LJ ГК-ГК+ГК-хол.", "t": 390.6, "E": -677}, {"series": "LJ ГК-ГК+ГК-хол.", "t": 392.3, "E": -724}, {"series": "LJ ГК-ГК+ГК-хол.", "t": 395.8, "E": -707}, {"series": "LJ ГК-ГК+ГК-хол.", "t": 396.6, "E": -664}, {"series": "LJ ГК-ГК+ГК-хол.", "t": 399.2, "E": -694}, {"series": "LJ ГК-ГК+ГК-хол.", "t": 401.8, "E": -677}, {"series": "LJ ГК-ГК+ГК-хол.", "t": 404.4, "E": -647}, {"series": "LJ ГК-ГК+ГК-хол.", "t": 406.2, "E": -677}, {"series": "LJ ГК-ГК+ГК-хол.", "t": 407.9, "E": -694}, {"series": "LJ ГК-ГК+ГК-хол.", "t": 409.6, "E": -664}, {"series": "LJ ГК-ГК+ГК-хол.", "t": 411.3, "E": -690}, {"series": "LJ ГК-ГК+ГК-хол.", "t": 413.1, "E": -677}, {"series": "LJ ГК-ГК+ГК-хол.", "t": 414.8, "E": -729}, {"series": "LJ ГК-ГК+ГК-хол.", "t": 418.3, "E": -733}, {"series": "LJ ГК-ГК+ГК-хол.", "t": 421.7, "E": -741}, {"series": "LJ ГК-ГК+ГК-хол.", "t": 425.2, "E": -724}, {"series": "LJ ГК-ГК+ГК-хол.", "t": 428.6, "E": -733}, {"series": "LJ ГК-ГК+ГК-хол.", "t": 433.8, "E": -694}, {"series": "LJ ГК-ГК+ГК-хол.", "t": 437.3, "E": -729}, {"series": "LJ ГК-ГК+ГК-хол.", "t": 442.5, "E": -716}, {"series": "LJ ГК-ГК+ГК-хол.", "t": 445.9, "E": -733}, {"series": "LJ ГК-ГК+ГК-хол.", "t": 450.2, "E": -703}, {"series": "LJ ГК-ГК+ГК-хол.", "t": 454.6, "E": -737}, {"series": "LJ ГК-ГК+ГК-хол.", "t": 458.0, "E": -720}, {"series": "LJ ГК-ГК+ГК-хол.", "t": 461.5, "E": -690}, {"series": "LJ ГК-ГК+ГК-хол.", "t": 464.9, "E": -698}, {"series": "LJ ГК-ГК+ГК-хол.", "t": 468.4, "E": -664}, {"series": "LJ ГК-ГК+ГК-хол.", "t": 471.0, "E": -668}, {"series": "LJ ГК-ГК+ГК-хол.", "t": 473.6, "E": -707}, {"series": "LJ ГК-ГК+ГК-хол.", "t": 476.2, "E": -703}, {"series": "LJ ГК-ГК+ГК-хол.", "t": 478.8, "E": -729}, {"series": "LJ ГК-ГК+ГК-хол.", "t": 482.2, "E": -720}, {"series": "LJ ГК-ГК+ГК-хол.", "t": 486.5, "E": -694}, {"series": "LJ ГК-ГК+ГК-хол.", "t": 489.1, "E": -724}, {"series": "LJ ГК-ГК+ГК-хол.", "t": 492.6, "E": -724}, {"series": "LJ ГК-ГК+ГК-хол.", "t": 496.1, "E": -727}, {"series": "LJ ГК-ГК+ГК-хол.", "t": 498.6, "E": -737}, {"series": "LJ ГК-ГК+ГК-хол.", "t": 500, "E": -735}
    ],
    "means": [
      {"series": "средн. энергия", "seg": "upper solid", "dash": "solid", "t": 0, "E": -707},
      {"series": "средн. энергия", "seg": "upper solid", "dash": "solid", "t": 308.5, "E": -707},
      {"series": "средн. энергия", "seg": "upper dashed", "dash": "dashed", "t": 299, "E": -707},
      {"series": "средн. энергия", "seg": "upper dashed", "dash": "dashed", "t": 420, "E": -707},
      {"series": "средн. энергия", "seg": "lower dashed", "dash": "dashed", "t": 299, "E": -720},
      {"series": "средн. энергия", "seg": "lower dashed", "dash": "dashed", "t": 420, "E": -720},
      {"series": "средн. энергия", "seg": "lower solid", "dash": "solid", "t": 410, "E": -720},
      {"series": "средн. энергия", "seg": "lower solid", "dash": "solid", "t": 500, "E": -720}
    ]
  },
  "layer": [
    {
      "data": {"name": "curves"},
      "mark": {"type": "line", "interpolate": "linear", "strokeWidth": 1.8, "clip": true},
      "encoding": {
        "x": {"field": "t", "type": "quantitative", "scale": {"domain": [0, 500], "nice": false, "zero": false},
          "axis": {"orient": "bottom", "title": "t, ns", "values": [0,20,40,60,80,100,120,140,160,180,200,220,240,260,280,300,320,340,360,380,400,420,440,460,480,500],
            "labelExpr": "datum.value % 100 === 0 ? datum.label : ''", "tickSize": {"condition": {"test": "datum.value % 100 === 0", "value": 17}, "value": 10}, "labelPadding": 8, "labelFlush": false, "labelOverlap": false,
            "titleX": 471, "titleY": 88, "titleAlign": "center", "titleBaseline": "middle"}},
        "y": {"field": "E", "type": "quantitative", "scale": {"domain": [-800, 0], "nice": false, "zero": false},
          "axis": {"orient": "left", "title": "E, kT", "values": [-800,-750,-700,-650,-600,-550,-500,-450,-400,-350,-300,-250,-200,-150,-100,-50,0],
            "labelExpr": "datum.value % 200 === 0 ? datum.label : ''", "tickSize": {"condition": {"test": "datum.value % 200 === 0", "value": 17}, "value": 10}, "labelPadding": 10, "labelOverlap": false, "labelFlush": false,
            "titleX": -152, "titleY": 353, "titleAlign": "center", "titleBaseline": "middle", "titleAngle": -90}},
        "color": {"field": "series", "type": "nominal", "title": null, "scale": {"domain": ["LJ ГК-ГК", "LJ ГК-хол.", "LJ ГК-ГК+ГК-хол.", "средн. энергия"], "range": ["#000000", "#ff0000", "#00ff00", "#0000ff"]},
          "legend": {"encode": {"symbols": {"update": {"strokeWidth": {"signal": "datum.value === 'средн. энергия' ? 4 : 1.6"}}}}}}
      }
    },
    {
      "data": {"name": "means"},
      "mark": {"type": "line", "strokeWidth": 4, "clip": true},
      "encoding": {
        "x": {"field": "t", "type": "quantitative",
          "axis": {"orient": "top", "title": null, "labels": false, "values": [0,20,40,60,80,100,120,140,160,180,200,220,240,260,280,300,320,340,360,380,400,420,440,460,480,500],
            "tickSize": {"condition": {"test": "datum.value % 100 === 0", "value": 18}, "value": 10}}},
        "y": {"field": "E", "type": "quantitative",
          "axis": {"orient": "right", "title": null, "labels": false, "values": [-800,-750,-700,-650,-600,-550,-500,-450,-400,-350,-300,-250,-200,-150,-100,-50,0],
            "tickSize": {"condition": {"test": "datum.value % 200 === 0", "value": 17}, "value": 10}}},
        "color": {"field": "series", "type": "nominal", "title": null},
        "strokeDash": {"field": "dash", "type": "nominal", "legend": null, "scale": {"domain": ["solid", "dashed"], "range": [[1, 0], [18, 10]]}},
        "detail": {"field": "seg", "type": "nominal"}
      }
    }
  ],
  "resolve": {"axis": {"x": "independent", "y": "independent"}}
}
